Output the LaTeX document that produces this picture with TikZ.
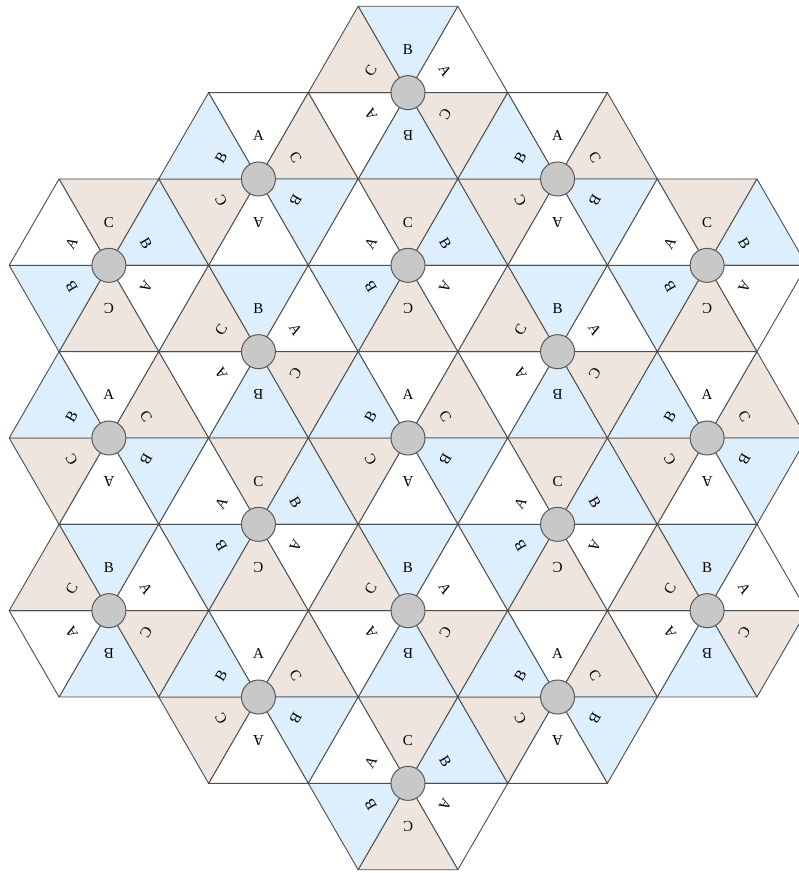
\documentclass[tikz,border=0pt]{standalone}
\usepackage{fontspec}
\setmainfont{Liberation Serif}
\usepackage{tikz}
\definecolor{TileA}{HTML}{FFFFFF}
\definecolor{TileB}{HTML}{DDEEFD}
\definecolor{TileC}{HTML}{EEE5DF}
\definecolor{EdgeGray}{HTML}{4D4D4D}
\definecolor{HubFill}{HTML}{C8C8C8}
\definecolor{HubLine}{HTML}{595959}

\def\side{99.7}
\def\rowh{86.34}

% one hexagon round a hub: name, column, row, labels clockwise from the top
\newcommand{\hexcell}[6]{%
  \coordinate (c#1) at ({#2*1.5*\side},{#3*\rowh});
  \foreach \p/\lab in {0/#4,1/#5,2/#6,3/#4,4/#5,5/#6}{
    \pgfmathsetmacro{\ang}{90-60*\p}
    \draw[tile, fill=Tile\lab] (c#1) -- ++(\ang+30:\side) -- ++(\ang-90:\side) -- cycle;
    \node[tag, rotate=\ang-90] at ([shift={(\ang:43)}]c#1) {\lab};
  }
  \node[hub] (#1) at (c#1) {};
}

\begin{document}
\begin{tikzpicture}[
    x=1pt, y=1pt,
    tile/.style={draw=EdgeGray, line width=0.9pt, line join=round},
    tag/.style={inner sep=0pt, font=\fontsize{15}{17}\selectfont, text=black},
    hub/.style={circle, draw=HubLine, line width=1pt, fill=HubFill, minimum size=34pt, inner sep=0pt}
  ]
  \clip (-408,438) rectangle (391,-435);

  % top row
  \hexcell{hubA}{0}{4}{B}{A}{C}
  \hexcell{hubB}{-1}{3}{A}{C}{B}
  \hexcell{hubC}{1}{3}{A}{C}{B}
  \hexcell{hubD}{-2}{2}{C}{B}{A}
  \hexcell{hubE}{0}{2}{C}{B}{A}
  \hexcell{hubF}{2}{2}{C}{B}{A}
  \hexcell{hubG}{-1}{1}{B}{A}{C}
  \hexcell{hubH}{1}{1}{B}{A}{C}
  % middle row
  \hexcell{hubI}{-2}{0}{A}{C}{B}
  \hexcell{hubJ}{0}{0}{A}{C}{B}
  \hexcell{hubK}{2}{0}{A}{C}{B}
  \hexcell{hubL}{-1}{-1}{C}{B}{A}
  \hexcell{hubM}{1}{-1}{C}{B}{A}
  \hexcell{hubN}{-2}{-2}{B}{A}{C}
  \hexcell{hubO}{0}{-2}{B}{A}{C}
  \hexcell{hubP}{2}{-2}{B}{A}{C}
  \hexcell{hubQ}{-1}{-3}{A}{C}{B}
  \hexcell{hubR}{1}{-3}{A}{C}{B}
  % bottom row
  \hexcell{hubS}{0}{-4}{C}{B}{A}
\end{tikzpicture}
\end{document}
